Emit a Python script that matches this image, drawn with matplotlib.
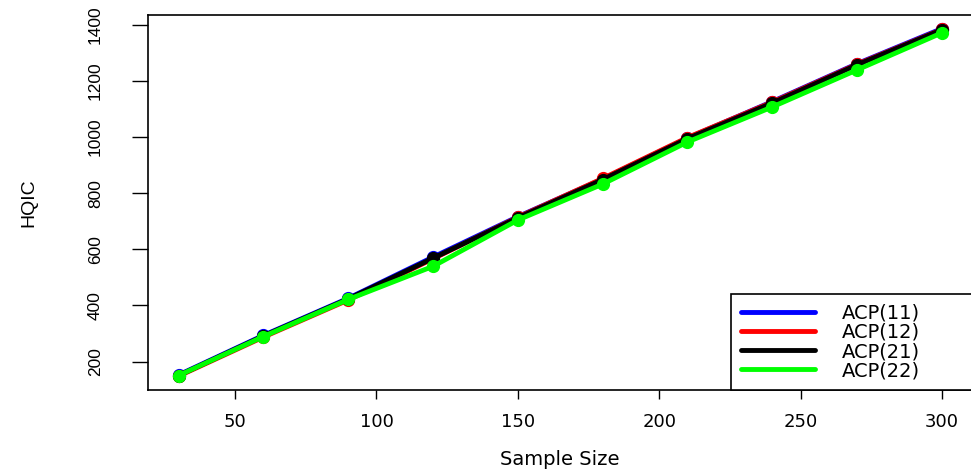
import matplotlib
matplotlib.use('Agg')
import matplotlib.pyplot as plt
from matplotlib import font_manager

# HQIC by sample size for the four ACP models
sample_size = [30, 60, 90, 120, 150, 180, 210, 240, 270, 300]
acp11 = [152, 293, 425, 572, 716, 850, 996, 1126, 1261, 1386]
acp12 = [148, 287, 419, 566, 714, 852, 998, 1124, 1259, 1383]
acp21 = [150, 291, 423, 568, 712, 848, 994, 1121, 1257, 1382]
acp22 = [150, 289, 421, 539, 704, 832, 982, 1107, 1239, 1371]

labels = ['ACP(11)', 'ACP(12)', 'ACP(21)', 'ACP(22)']
colors = ['blue', 'red', 'black', '#00ff00']
xticks = [50, 100, 150, 200, 250, 300]
yticks = [200, 400, 600, 800, 1000, 1200, 1400]

names = {f.name for f in font_manager.fontManager.ttflist}
narrow = 'Liberation Sans Narrow' if 'Liberation Sans Narrow' in names else 'Liberation Sans'

fig = plt.figure(figsize=(9.71, 4.74), dpi=100)
ax = fig.add_axes([148 / 971, 1 - 390 / 474, (972.5 - 148) / 971, (390 - 14.7) / 474])

for ys, c, lab in zip([acp11, acp12, acp21, acp22], colors, labels):
    ax.plot(sample_size, ys, color=c, lw=3.5, marker='o', ms=8.5,
            solid_capstyle='round', label=lab)

# R-style 4% padding around the data
xr = max(sample_size) - min(sample_size)
ax.set_xlim(min(sample_size) - 0.04 * xr, max(sample_size) + 0.04 * xr)
allv = acp11 + acp12 + acp21 + acp22
yr = max(allv) - min(allv)
ax.set_ylim(min(allv) - 0.04 * yr, max(allv) + 0.04 * yr)

ax.set_xticks(xticks)
ax.set_yticks(yticks)
ax.tick_params(axis='x', length=6.5, width=1, pad=10, labelsize=13)
ax.tick_params(axis='y', length=11.5, width=1, pad=21, labelsize=12.5)
for t in ax.get_xticklabels():
    t.set_family('DejaVu Sans')
for t in ax.get_yticklabels():
    t.set_family(narrow)
    t.set_rotation(90)
    t.set_va('center')
for s in ax.spines.values():
    s.set_linewidth(1.2)

ax.set_xlabel('Sample Size', fontsize=14, family='DejaVu Sans', labelpad=14)
ax.set_ylabel('HQIC', fontsize=14, family=narrow, labelpad=36)

# legend box stretched from its left edge to the right side of the axes
x0 = (731 - 148) / 824.5
leg = ax.legend(loc='lower left', bbox_to_anchor=(x0, 0, 1 - x0, 0.3),
                mode='expand', borderaxespad=0,
                fancybox=False, edgecolor='black', framealpha=1,
                prop={'family': 'DejaVu Sans', 'size': 14},
                handlelength=3.8, handletextpad=1.4, labelspacing=0.01,
                borderpad=0.5)
leg.get_frame().set_linewidth(1.2)
for h in leg.get_lines():
    h.set_marker('')
    h.set_linewidth(3.5)

fig.savefig('out.png', dpi=100)
